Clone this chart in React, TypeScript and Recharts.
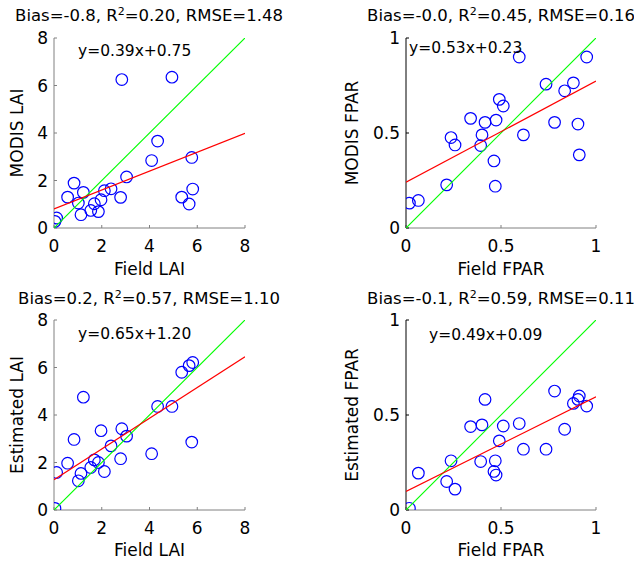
import React from 'react';
import { ScatterChart, Scatter, XAxis, YAxis } from 'recharts';

const fieldLAI = [0.04, 0.11, 0.57, 0.84, 1.02, 1.13, 1.23, 1.54, 1.69, 1.86, 1.97, 2.11, 2.39, 2.79, 2.84, 3.04, 4.09, 4.34, 4.94, 5.35, 5.66, 5.77, 5.81];
const modisLAI = [0.28, 0.42, 1.30, 1.89, 1.05, 0.56, 1.50, 0.74, 1.02, 0.69, 1.19, 1.57, 1.65, 1.29, 6.25, 2.15, 2.84, 3.66, 6.35, 1.30, 1.01, 2.97, 1.64];
const estLAI = [0.07, 1.58, 1.97, 2.97, 1.23, 1.54, 4.75, 1.79, 2.11, 2.00, 3.34, 1.62, 2.70, 2.16, 3.42, 3.11, 2.37, 4.36, 4.36, 5.80, 6.08, 2.86, 6.21];

const fieldFPAR = [0.018, 0.065, 0.214, 0.237, 0.258, 0.340, 0.393, 0.400, 0.416, 0.463, 0.470, 0.474, 0.491, 0.512, 0.596, 0.618, 0.737, 0.782, 0.835, 0.881, 0.905, 0.912, 0.951];
const modisFPAR = [0.131, 0.145, 0.227, 0.476, 0.437, 0.577, 0.434, 0.490, 0.556, 0.353, 0.220, 0.568, 0.677, 0.642, 0.900, 0.490, 0.757, 0.556, 0.722, 0.764, 0.547, 0.385, 0.900];
const estFPAR = [0.009, 0.194, 0.150, 0.259, 0.110, 0.439, 0.255, 0.448, 0.582, 0.203, 0.259, 0.184, 0.364, 0.442, 0.455, 0.320, 0.320, 0.626, 0.425, 0.561, 0.582, 0.600, 0.547];

// fit line endpoints (y at x = domain min, y at x = domain max)
const fitModisLAI = [0.80, 3.99];
const fitEstLAI = [1.27, 6.45];
const fitModisFPAR = [0.241, 0.773];
const fitEstFPAR = [0.098, 0.596];

const laiTicks = [0, 2, 4, 6, 8];
const fparTicks = [0, 0.5, 1];

const titles = [
  ['Bias=-0.8, R', '=0.20, RMSE=1.48'],
  ['Bias=-0.0, R', '=0.45, RMSE=0.16'],
  ['Bias=0.2, R', '=0.57, RMSE=1.10'],
  ['Bias=-0.1, R', '=0.59, RMSE=0.11'],
];
const equations = ['y=0.39x+0.75', 'y=0.53x+0.23', 'y=0.65x+1.20', 'y=0.49x+0.09'];

const FONT = '"DejaVu Sans", sans-serif';

const zip = (xs: number[], ys: number[]) => xs.map((x, i) => ({ x, y: ys[i] }));

const Circle = (props: any) => {
  const { cx, cy } = props;
  if (cx == null || cy == null) return <g />;
  return <circle cx={cx} cy={cy} r={5.8} fill="none" stroke="#0000ff" strokeWidth={1.2} />;
};
const NoPoint = () => <g />;

type PanelProps = {
  left: number;
  top: number;
  height: number;
  yAxisWidth: number;
  rightMargin: number;
  xs: number[];
  ys: number[];
  fit: number[];
  max: number;
  ticks: number[];
  xLabel: string;
  yLabel: string;
  yLabelOffset: number;
  yAxisColor: string;
  title: string[];
  titleCenter: number;
  titleTop: number;
  eq: string;
  eqLeft: number;
  eqTop: number;
};

const Panel = (p: PanelProps) => {
  const data = zip(p.xs, p.ys);
  const oneToOne = [{ x: 0, y: 0 }, { x: p.max, y: p.max }];
  const fitLine = [{ x: 0, y: p.fit[0] }, { x: p.max, y: p.fit[1] }];
  const tickStyle = { fill: '#000', fontSize: 17, fontFamily: FONT };
  return (
    <div style={{ position: 'absolute', left: p.left, top: p.top, width: 317, height: p.height }}>
      <ScatterChart
        width={317}
        height={p.height}
        margin={{ top: 38, right: p.rightMargin, bottom: 0, left: 0 }}
      >
        <XAxis
          type="number"
          dataKey="x"
          domain={[0, p.max]}
          ticks={p.ticks}
          allowDataOverflow
          height={p.height - 38 - 190}
          stroke="#808080"
          tickSize={-3}
          tickMargin={15}
          tick={tickStyle}
          tickFormatter={(v: number) => String(v)}
          label={{ value: p.xLabel, position: 'insideBottom', offset: 7, style: { fill: '#000', fontSize: 17, fontFamily: FONT } }}
        />
        <YAxis
          type="number"
          dataKey="y"
          domain={[0, p.max]}
          ticks={p.ticks}
          allowDataOverflow
          width={p.yAxisWidth}
          stroke={p.yAxisColor}
          tickSize={-3}
          tickMargin={9}
          tick={tickStyle}
          tickFormatter={(v: number) => String(v)}
          label={{ value: p.yLabel, angle: -90, position: 'insideLeft', offset: p.yLabelOffset, style: { textAnchor: 'middle', fill: '#000', fontSize: 17, fontFamily: FONT } }}
        />
        <Scatter data={data} shape={Circle} isAnimationActive={false} />
        <Scatter
          data={oneToOne}
          line={{ stroke: '#00ff00', strokeWidth: 1.2 }}
          shape={NoPoint}
          isAnimationActive={false}
        />
        <Scatter
          data={fitLine}
          line={{ stroke: '#ff0000', strokeWidth: 1.2 }}
          shape={NoPoint}
          isAnimationActive={false}
        />
      </ScatterChart>
      <div
        style={{
          position: 'absolute',
          left: p.titleCenter - 200,
          width: 400,
          top: p.titleTop,
          textAlign: 'center',
          fontFamily: FONT,
          fontSize: 16.5,
          lineHeight: '20px',
          whiteSpace: 'nowrap',
          color: '#000',
        }}
      >
        {p.title[0]}
        <span style={{ fontSize: 11, verticalAlign: 'super', lineHeight: 0 }}>2</span>
        {p.title[1]}
      </div>
      <div
        style={{
          position: 'absolute',
          left: p.eqLeft,
          top: p.eqTop,
          fontFamily: FONT,
          fontSize: 15.5,
          lineHeight: '18px',
          whiteSpace: 'nowrap',
          color: '#000',
        }}
      >
        {p.eq}
      </div>
    </div>
  );
};

export default function App() {
  return (
    <div
      style={{
        position: 'absolute',
        left: 0,
        top: 0,
        width: 634,
        height: 563,
        background: '#fff',
        overflow: 'hidden',
      }}
    >
      <Panel
        left={0} top={0} height={282} yAxisWidth={54} rightMargin={72}
        xs={fieldLAI} ys={modisLAI} fit={fitModisLAI} max={8} ticks={laiTicks}
        xLabel="Field LAI" yLabel="MODIS LAI" yLabelOffset={17} yAxisColor="#808080"
        title={titles[0]} titleCenter={149} titleTop={6}
        eq={equations[0]} eqLeft={78} eqTop={42}
      />
      <Panel
        left={317} top={0} height={282} yAxisWidth={89} rightMargin={38}
        xs={fieldFPAR} ys={modisFPAR} fit={fitModisFPAR} max={1} ticks={fparTicks}
        xLabel="Field FPAR" yLabel="MODIS FPAR" yLabelOffset={35} yAxisColor="#000"
        title={titles[1]} titleCenter={184} titleTop={6}
        eq={equations[1]} eqLeft={92} eqTop={39}
      />
      <Panel
        left={0} top={282} height={281} yAxisWidth={54} rightMargin={72}
        xs={fieldLAI} ys={estLAI} fit={fitEstLAI} max={8} ticks={laiTicks}
        xLabel="Field LAI" yLabel="Estimated LAI" yLabelOffset={17} yAxisColor="#808080"
        title={titles[2]} titleCenter={149} titleTop={7}
        eq={equations[2]} eqLeft={78} eqTop={43}
      />
      <Panel
        left={317} top={282} height={281} yAxisWidth={89} rightMargin={38}
        xs={fieldFPAR} ys={estFPAR} fit={fitEstFPAR} max={1} ticks={fparTicks}
        xLabel="Field FPAR" yLabel="Estimated FPAR" yLabelOffset={35} yAxisColor="#000"
        title={titles[3]} titleCenter={184} titleTop={7}
        eq={equations[3]} eqLeft={112} eqTop={44}
      />
    </div>
  );
}
